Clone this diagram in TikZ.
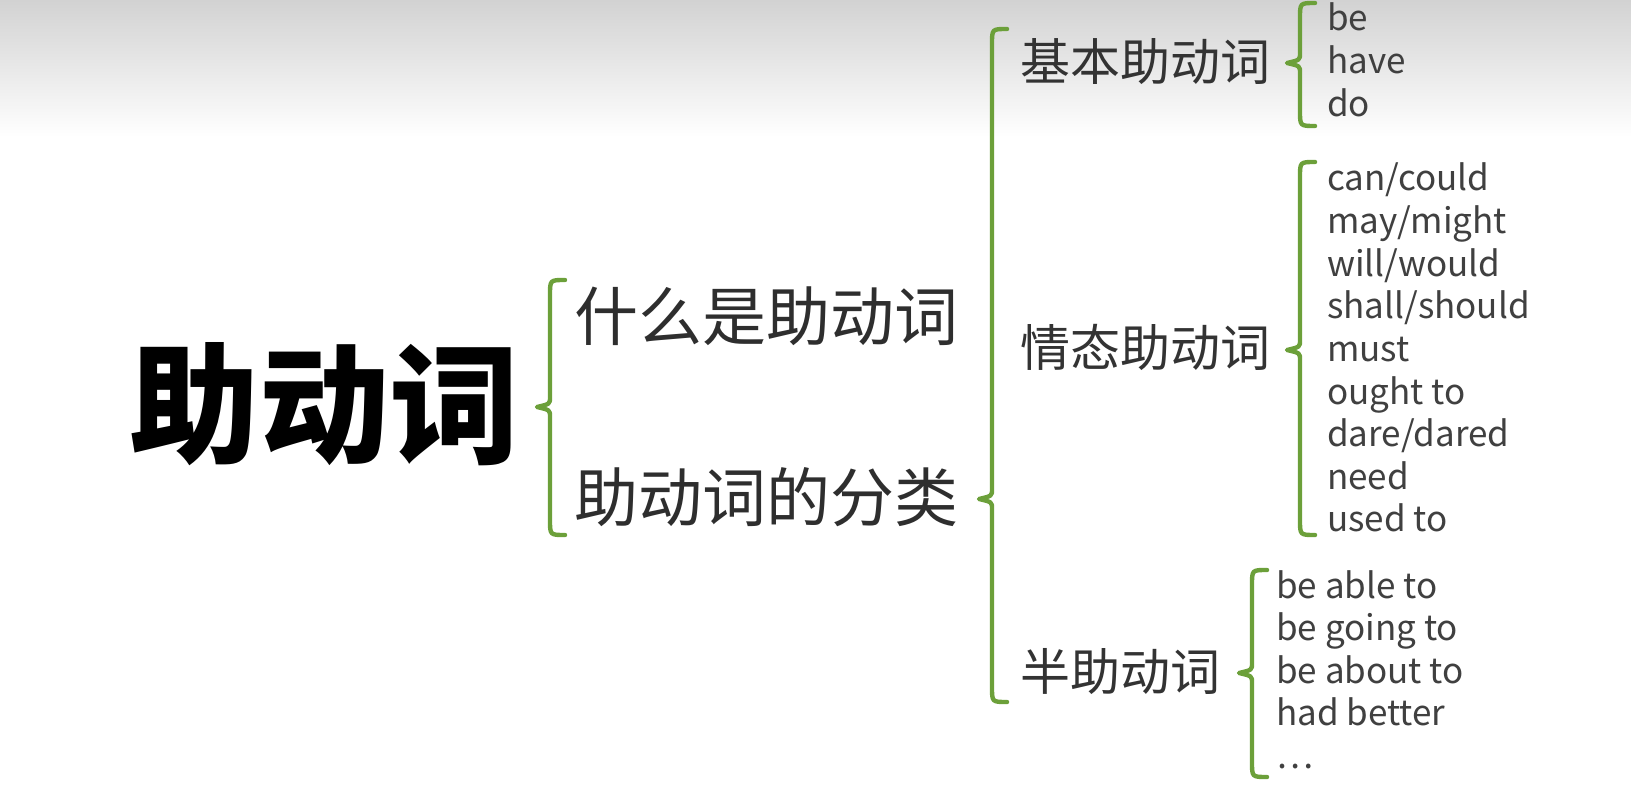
\documentclass[tikz,border=0pt]{standalone}
\usepackage{fontspec}
\setmainfont{Noto Sans CJK SC}
\usepackage{tikz}

\definecolor{bracegreen}{RGB}{108,160,58}
\definecolor{topgray}{RGB}{210,210,210}
\tikzset{
  greenbrace/.style={draw=bracegreen,line width=4.4pt,line cap=round,line join=round},
  mainlabel/.style={font=\fontsize{130}{130}\selectfont\bfseries,inner sep=0pt},
  firstlabel/.style={font=\fontsize{64}{64}\selectfont,inner sep=0pt,anchor=west,text=black!82},
  secondlabel/.style={font=\fontsize{50}{50}\selectfont,inner sep=0pt,anchor=west,text=black!80},
  wordlabel/.style={font=\fontsize{35}{35}\selectfont,inner sep=0pt,anchor=base west,text=black!75}
}
% brace: tip, rise above tip, drop below tip
\newcommand{\gbrace}[3]{%
  \draw[greenbrace] ([shift={(28,-#2)}]#1) .. controls ([shift={(13,-#2)}]#1) .. ([shift={(13,-#2+15)}]#1)
    -- ([shift={(13,-10)}]#1) .. controls ([shift={(13,-3)}]#1) .. (#1)
    .. controls ([shift={(13,3)}]#1) .. ([shift={(13,10)}]#1)
    -- ([shift={(13,#3-15)}]#1) .. controls ([shift={(13,#3)}]#1) .. ([shift={(28,#3)}]#1);}

\begin{document}
\begin{tikzpicture}[x=1pt,y=-1pt]
  \fill[white] (0,0) rectangle (1631,786);
  \useasboundingbox (0,0) rectangle (1631,786);
  \shade[top color=topgray,bottom color=white] (0,0) rectangle (1631,137);

  \node[mainlabel] (title) at (324,404) {助动词};
  \node[firstlabel] (what) at (574,316) {什么是助动词};
  \node[firstlabel] (kinds) at (574,497) {助动词的分类};
  \node[secondlabel] (basic) at (1020,62) {基本助动词};
  \node[secondlabel] (modal) at (1020,347) {情态助动词};
  \node[secondlabel] (semi) at (1020,672) {半助动词};

  % word lists
  \foreach \w [count=\i] in {be,have,do}
    \node[wordlabel] (b\i) at (1327,{31+42.8*(\i-1)}) {\w};
  \foreach \w [count=\i] in {can/could,may/might,will/would,shall/should,must,ought to,dare/dared,need,used to}
    \node[wordlabel] (m\i) at (1327,{191+42.6*(\i-1)}) {\w};
  \foreach \w [count=\i] in {be able to,be going to,be about to,had better}
    \node[wordlabel] (s\i) at (1276,{598+42.6*(\i-1)}) {\w};
  \node[wordlabel] (s5) at (1276,768) {\ldots};

  % braces
  \coordinate (b1tip) at (537,407);
  \coordinate (b2tip) at (979,499);
  \coordinate (b3tip) at (1287,63);
  \coordinate (b4tip) at (1287,350);
  \coordinate (b5tip) at (1239,673);
  \gbrace{b1tip}{127}{128}
  \gbrace{b2tip}{470}{203}
  \gbrace{b3tip}{60}{63}
  \gbrace{b4tip}{188}{185}
  \gbrace{b5tip}{103}{104}
\end{tikzpicture}
\end{document}
